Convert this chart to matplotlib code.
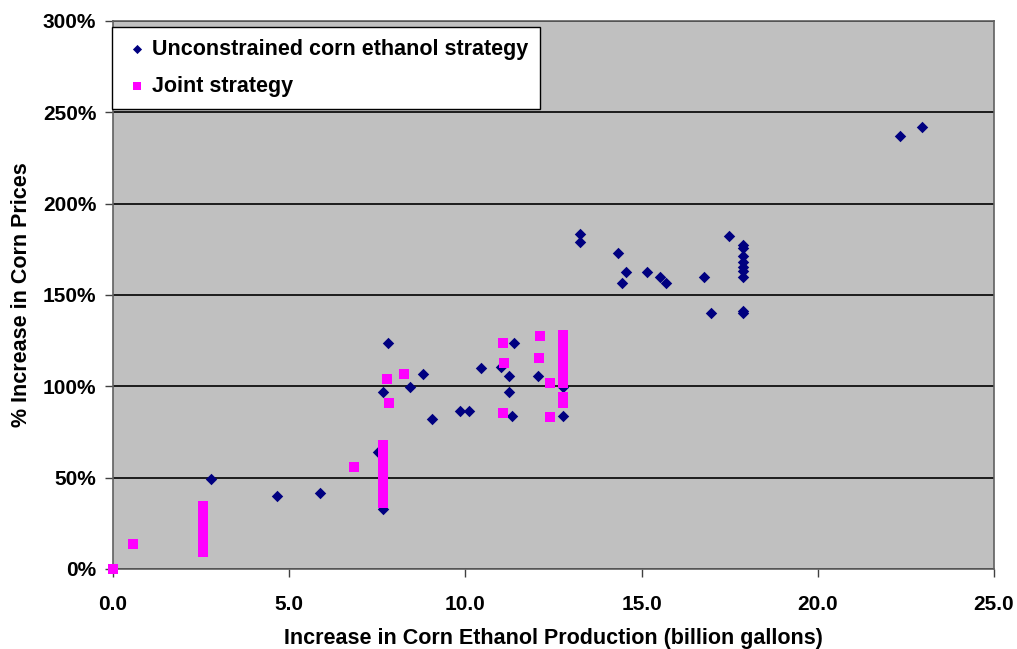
import matplotlib.pyplot as plt
import matplotlib.ticker as mticker

plt.rcParams['font.family'] = ['Liberation Sans', 'DejaVu Sans']
plt.rcParams['font.weight'] = 'bold'

# Unconstrained corn ethanol strategy
unc_x = [2.78, 4.66, 5.88, 7.53, 7.67, 7.67, 7.81, 8.44, 8.81, 9.06, 9.86, 10.11,
         10.43, 11.0, 11.25, 11.25, 11.33, 11.39, 12.07, 12.76, 12.76,
         13.24, 13.24, 14.32, 14.43, 14.57, 15.14, 15.51, 15.68, 16.76, 16.96, 17.47,
         17.87, 17.87, 17.87, 17.87, 17.87, 17.87, 17.87, 17.87, 17.87,
         22.33, 22.95]
unc_y = [49, 40, 41.5, 64, 33, 97, 123.5, 99.5, 106.5, 82, 86.3, 86.3,
         110, 110.5, 105.5, 97, 83.6, 123.5, 105.5, 99.5, 83.6,
         183.6, 179.2, 173.2, 156.8, 162.8, 162.8, 159.6, 156.8, 159.6, 140.4, 182.5,
         177.6, 176, 171.6, 167.9, 165.6, 163, 160, 141, 139.9,
         237, 242]

# Joint strategy
joint_x = [0.0, 0.57,
           2.55, 2.55, 2.55, 2.55, 2.55, 2.55, 2.55, 2.55, 2.55, 2.55, 2.55, 2.55, 2.55,
           6.85,
           7.67, 7.67, 7.67, 7.67, 7.67, 7.67, 7.67, 7.67, 7.67, 7.67, 7.67, 7.67, 7.67, 7.67, 7.67, 7.67,
           7.78, 7.84, 8.27, 11.08, 11.1, 11.08, 12.13, 12.1, 12.41, 12.41,
           12.76, 12.76, 12.76, 12.76, 12.76, 12.76, 12.76, 12.76, 12.76, 12.76, 12.76, 12.76, 12.76]
joint_y = [0, 13.7,
           9.3, 11, 13, 15, 17, 19, 21, 23, 25, 27, 29.5, 32, 34.4,
           55.7,
           36, 38, 40, 42, 44, 46, 48, 50, 52, 54, 56, 58, 60, 63, 65.5, 68,
           104, 90.7, 106.5, 123.5, 112.6, 85.2, 127.3, 115.3, 101.6, 83,
           91, 94, 101.6, 104, 106.5, 109, 112, 115, 118, 120.5, 123, 125.5, 128]

fig = plt.figure(figsize=(10.17, 6.49), dpi=100)
ax = fig.add_axes([113 / 1017, 1 - 569 / 649, (994 - 113) / 1017, (569 - 21) / 649])
ax.set_facecolor('#c0c0c0')

ax.scatter(unc_x, unc_y, marker='D', s=34, color='#000080', linewidths=0,
           label='Unconstrained corn ethanol strategy', zorder=3)
ax.scatter(joint_x, joint_y, marker='s', s=52, color='#ff00ff', linewidths=0,
           label='Joint strategy', zorder=4, clip_on=False)

ax.set_xlim(0, 25)
ax.set_ylim(0, 300)
ax.set_xticks([0, 5, 10, 15, 20, 25])
ax.set_yticks([0, 50, 100, 150, 200, 250, 300])
ax.xaxis.set_major_formatter(mticker.FormatStrFormatter('%.1f'))
ax.yaxis.set_major_formatter(mticker.FuncFormatter(lambda v, p: '%d%%' % v))
ax.yaxis.grid(True, color='black', linewidth=1.2)
ax.set_axisbelow(True)
ax.tick_params(direction='out', length=6, width=1, color='#404040', labelsize=15)
ax.tick_params(axis='x', pad=13)
ax.tick_params(axis='y', pad=6)
for s in ax.spines.values():
    s.set_color('#606060')
    s.set_linewidth(1.2)

ax.set_xlabel('Increase in Corn Ethanol Production (billion gallons)', fontsize=15.5,
              fontweight='bold', labelpad=10)
ax.set_ylabel('% Increase in Corn Prices', fontsize=15.5, fontweight='bold', labelpad=8)

leg = ax.legend(loc='upper left', bbox_to_anchor=(112 / 1017, 1 - 27 / 649),
                bbox_transform=fig.transFigure, borderaxespad=0, fancybox=False,
                framealpha=1, edgecolor='black', fontsize=15.5, labelspacing=0.75,
                handletextpad=0.1, handlelength=1.2, borderpad=0.55, markerscale=0.8)
leg.get_frame().set_linewidth(1)
leg.set_zorder(10)

plt.savefig('out.png', dpi=100)
